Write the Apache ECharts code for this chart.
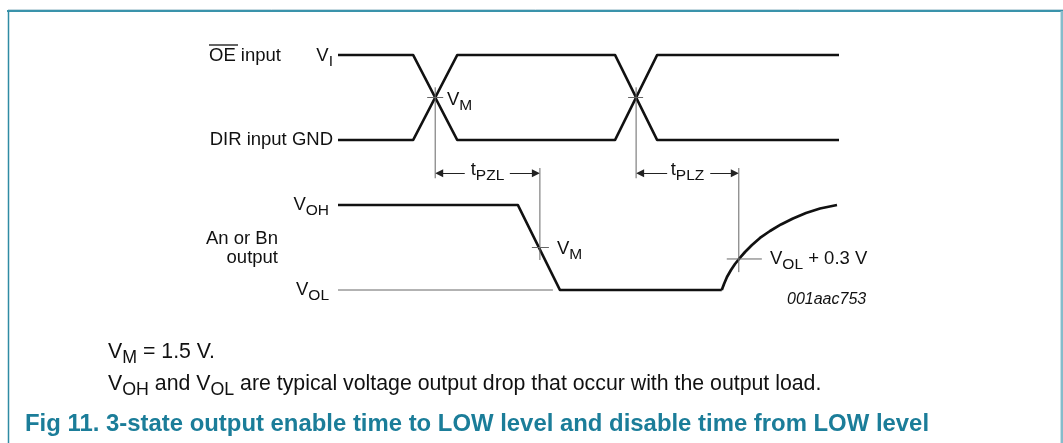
<!DOCTYPE html>
<html><head><meta charset="utf-8">
<script src="https://cdn.jsdelivr.net/npm/echarts@6/dist/echarts.min.js"></script>
<style>html,body{margin:0;padding:0;background:#fff}#c{width:1063px;height:443px}</style>
</head><body><div id="c"></div>
<script>
// ---- data (time in arbitrary units 0..100; level 0 = low, 1 = high) ----
const inputOE   = [[0,1],[15,1],[23.8,0],[55.3,0],[63.7,1],[100,1]];
const inputDIR  = [[0,0],[15,0],[23.8,1],[55.3,1],[63.7,0],[100,0]];
const outputStep = [[0,1],[35.9,1],[44.3,0],[76.6,0]];
const outputRise = [[76.6,0],[77.05,0.071],[77.64,0.153],[78.44,0.235],[79.24,0.306],[80.04,0.365],
  [81.24,0.447],[82.63,0.529],[84.23,0.612],[86.23,0.694],[88.42,0.771],[90.82,0.841],
  [93.41,0.906],[96.21,0.959],[99.6,1.0]];
const volRef = [[0,0],[42.9,0]];
const inputCross = [19.4, 59.5];          // V_M crossings of inputs
const inputGuide = [-0.45, 0.62];         // vertical guide extent (input levels)
const inputTick = [[17.8,21.0],[57.9,60.9]];
const vmLevel = 0.5;
const outVM = {t:40.3, tick:[38.7,42.1], guide:[1.435,0.353], level:0.5};
const outVOL = {t:80.0, tick:[77.6,84.6], guide:[1.435,0.21], level:0.365};
const arrowLevel = -0.39;
const arrows = [[25.3,20.2],[34.3,39.5],[65.7,60.3],[74.3,79.2]];

const F = '"Liberation Sans", Arial, sans-serif';
const INK = '#111';
const GUIDE = '#666';
const TEAL = '#1b7d99';

const chart = echarts.init(document.getElementById('c'), null, {renderer:'canvas'});

function mkRich(m, s, pad){
  return {
    m:{fontSize:m, fontFamily:F, fill:INK},
    s:{fontSize:s, fontFamily:F, fill:INK, padding:[pad,0,0,0]}
  };
}
const richChart = mkRich(18.5, 15.5, 12);
const richNote = mkRich(21.3, 17.8, 13);
function txt(text, x, y, align, rich){
  rich = rich || richChart;
  return {type:'text', silent:true, z:10, style:{
    text:text, x:x, y:y, rich:rich, align:align||'left', verticalAlign:'middle',
    textAlign:align||'left', textVerticalAlign:'middle', fontSize:rich.m.fontSize, fontFamily:F, fill:INK
  }};
}
function seg(x1,y1,x2,y2,color,w){
  return {type:'line', silent:true, shape:{x1:x1,y1:y1,x2:x2,y2:y2}, style:{stroke:color,lineWidth:w}};
}

const thick = {color:INK, width:2.7};
const thin = {color:GUIDE, width:1};
function lineSeries(data, xi, yi, style){
  return {type:'line', xAxisIndex:xi, yAxisIndex:yi, data:data, showSymbol:false, symbol:'none',
    lineStyle:Object.assign({join:'round'}, style), smooth:false, clip:false, silent:true, animation:false};
}

const series = [
  lineSeries(inputOE,0,0,thick),
  lineSeries(inputDIR,0,0,thick),
  lineSeries(outputStep,1,1,thick),
  lineSeries(outputRise,1,1,thick),
  lineSeries(volRef,1,1,thin)
];
inputCross.forEach(t=>{
  series.push(lineSeries([[t,inputGuide[0]],[t,inputGuide[1]]],0,0,thin));
});
inputTick.forEach(p=>{
  series.push(lineSeries([[p[0],vmLevel],[p[1],vmLevel]],0,0,thin));
});
[outVM,outVOL].forEach(o=>{
  series.push(lineSeries([[o.t,o.guide[0]],[o.t,o.guide[1]]],1,1,thin));
  series.push(lineSeries([[o.tick[0],o.level],[o.tick[1],o.level]],1,1,thin));
});
series.push({type:'lines', coordinateSystem:'cartesian2d', xAxisIndex:0, yAxisIndex:0,
  symbol:['none','triangle'], symbolSize:8, silent:true, animation:false, clip:false,
  lineStyle:{color:'#222', width:1, opacity:1, curveness:0},
  itemStyle:{color:'#111'},
  data: arrows.map(a=>({coords:[[a[0],arrowLevel],[a[1],arrowLevel]]}))});

const option = {
  backgroundColor:'#fff',
  animation:false,
  grid:[
    {left:338, width:501, top:55, height:127.5},
    {left:338, width:501, top:166.75, height:123.25}
  ],
  xAxis:[
    {type:'value', gridIndex:0, min:0, max:100, show:false},
    {type:'value', gridIndex:1, min:0, max:100, show:false}
  ],
  yAxis:[
    {type:'value', gridIndex:0, min:-0.5, max:1, show:false},
    {type:'value', gridIndex:1, min:0, max:1.45, show:false}
  ],
  series:series,
  graphic:[
    seg(8,9.5,1063,9.5,'#c5d9e0',1),
    seg(7,11,1063,11,'#3a93ab',2),
    seg(8.5,11,8.5,443,'#2f8ba4',1.5),
    seg(1061.8,11,1061.8,443,'#86bccb',2.5),
    txt('{m|OE input}',209,56,'left'),
    seg(209,45,238,45,INK,1.3),
    txt('{m|V}{s|I}',333,56,'right'),
    txt('{m|DIR input GND}',333,140,'right'),
    txt('{m|V}{s|M}',447,100,'left'),
    txt('{m|t}{s|PZL}',487.5,170,'center'),
    txt('{m|t}{s|PLZ}',687.5,170,'center'),
    txt('{m|V}{s|OH}',329,205,'right'),
    txt('{m|An or Bn}',278,239,'right'),
    txt('{m|output}',278,258,'right'),
    txt('{m|V}{s|OL}',329,290,'right'),
    txt('{m|V}{s|M}',557,249,'left'),
    txt('{m|V}{s|OL}{m| + 0.3 V}',770,259,'left'),
    {type:'text', silent:true, style:{text:'001aac753', x:787, y:300, align:'left', verticalAlign:'middle',
      textAlign:'left', textVerticalAlign:'middle', font:'italic 16px '+F, fill:INK}},
    txt('{m|V}{s|M}{m| = 1.5 V.}',108,352,'left',richNote),
    txt('{m|V}{s|OH}{m| and V}{s|OL}{m| are typical voltage output drop that occur with the output load.}',108,384,'left',richNote),
    {type:'text', silent:true, style:{text:'Fig 11. 3-state output enable time to LOW level and disable time from LOW level',
      x:25, y:424, align:'left', verticalAlign:'middle', textAlign:'left', textVerticalAlign:'middle',
      font:'bold 23.9px '+F, fill:TEAL}}
  ]
};
chart.setOption(option);
</script>
</body></html>
